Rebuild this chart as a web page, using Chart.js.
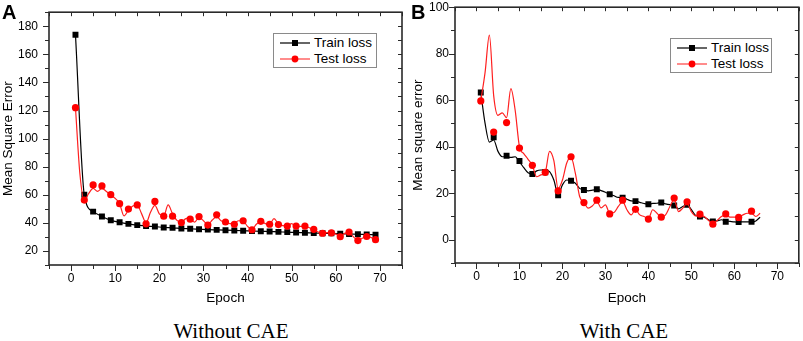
<!DOCTYPE html>
<html>
<head>
<meta charset="utf-8">
<script src="https://cdn.jsdelivr.net/npm/chart.js@4/dist/chart.umd.min.js"></script>
<style>
  html, body { margin: 0; padding: 0; background: #fff; }
  body { width: 803px; height: 341px; position: relative; overflow: hidden; font-family: "Liberation Sans", Arial, sans-serif; }
  canvas { position: absolute; top: 0; }
  .panel { position: absolute; font: bold 20px/20px "Liberation Sans", Arial, sans-serif; color: #000; }
  .legend { position: absolute; border: 1px solid #8a8a8a; background: #fff; box-sizing: border-box; font: 13.5px/16px "Liberation Sans", Arial, sans-serif; color: #000; padding-top: 1px; }
  .legend .row { height: 16px; display: flex; align-items: center; white-space: nowrap; }
  .legend svg { display: block; margin-right: 4px; }
  .caption { position: absolute; top: 319px; font: 21px/24px "Liberation Serif", "Times New Roman", serif; color: #000; transform: translateX(-50%); white-space: nowrap; }
</style>
</head>
<body>
<canvas id="chartA" width="410" height="306" style="left:0px"></canvas>
<canvas id="chartB" width="393" height="306" style="left:410px"></canvas>

<div class="panel" style="left:2px; top:2px;">A</div>
<div class="panel" style="left:411px; top:2px;">B</div>

<div class="legend" style="left:273px; top:33px; width:104px; height:35px; padding-left:6px;">
  <div class="row"><svg width="30" height="10"><line x1="0" y1="5" x2="30" y2="5" stroke="#000" stroke-width="1.2"/><rect x="12" y="2" width="6" height="6" fill="#000"/></svg><span id="legA1"></span></div>
  <div class="row"><svg width="30" height="10"><line x1="0" y1="5" x2="30" y2="5" stroke="#ff4040" stroke-width="1.2"/><circle cx="15" cy="5" r="3.4" fill="#ff0000"/></svg><span id="legA2"></span></div>
</div>
<div class="legend" style="left:670px; top:38px; width:102px; height:35px; padding-left:6px;">
  <div class="row"><svg width="30" height="10"><line x1="0" y1="5" x2="30" y2="5" stroke="#000" stroke-width="1.2"/><rect x="12" y="2" width="6" height="6" fill="#000"/></svg><span id="legB1"></span></div>
  <div class="row"><svg width="30" height="10"><line x1="0" y1="5" x2="30" y2="5" stroke="#ff4040" stroke-width="1.2"/><circle cx="15" cy="5" r="3.4" fill="#ff0000"/></svg><span id="legB2"></span></div>
</div>

<div class="caption" style="left:231px;">Without CAE</div>
<div class="caption" style="left:624px;">With CAE</div>

<script>
// ---------------- DATA ----------------
const seriesNames = ["Train loss", "Test loss"];

// Panel A (without CAE)
const markerEpochsA = [1,3,5,7,9,11,13,15,17,19,21,23,25,27,29,31,33,35,37,39,41,43,45,47,49,51,53,55,57,59,61,63,65,67,69];
const trainA = [174,60,48,44.5,41.8,40.4,39.3,38.4,37.7,37.4,36.7,36.5,36,35.8,35.5,35.2,35,34.8,34.6,34.4,34.2,34,33.8,33.6,33.4,33.2,33,32.8,32.6,32.5,32.3,32.1,31.9,31.7,31.5];
const testMarkA = [122,56.2,67,66.3,60.1,53.7,49.8,52.8,39.3,55.3,44.8,44.8,40.2,42.6,44.5,38.4,45.7,40.6,39,41.5,35.1,41.1,39,38.8,37.7,37.7,37.7,35.4,32.6,32.9,30.1,33.5,27.4,30.3,28];
const lineEpochsA = [1,2,3,4,5,6,7,8,9,10,11,12,13,14,15,16,17,18,19,20,21,22,23,24,25,26,27,28,29,30,31,32,33,34,35,36,37,38,39,40,41,42,43,44,45,46,47,48,49,50,51,52,53,54,55,56,57,58,59,60,61,62,63,64,65,66,67,68,69];
const testLineA = [122,75,56,61,64.5,62.4,64.5,62.4,60,57.4,53.7,45,49,52,52.6,46.4,40,47.5,52.5,46.4,45,52.8,46.4,41.8,40.6,43,43.5,40.5,44,41.5,38.8,42,44.5,41.5,40.3,39.5,39.8,41.5,41.2,37.5,35.5,39,41,39.5,39,43,39.2,38,37.8,39.5,37.5,37.5,37.5,36.5,35.2,33.5,32.8,33,32.9,32,30.5,32.5,33.2,30,27.8,29,30.5,29.5,28.5];
const xTicksA = [0,10,20,30,40,50,60,70];
const yTicksA = [20,40,60,80,100,120,140,160,180];

// Panel B (with CAE)
const markerEpochsB = [1,4,7,10,13,16,19,22,25,28,31,34,37,40,43,46,49,52,55,58,61,64];
const trainMarkB = [63.3,44.1,36.1,33.9,28.3,29,19.1,25.4,21.4,21.7,19.6,18.1,16.6,15.3,16,14.7,15,10,7.9,7.7,7.6,7.7];
const testMarkB = [59.7,46.3,50.4,39.4,32,29,21,35.7,16,17,11.1,17,13.1,8.9,9.7,17.9,16.3,11,6.7,11.1,9.6,12.3];
const lineEpochsB = [1,2,3,4,5,6,7,8,9,10,11,12,13,14,15,16,17,18,19,20,21,22,23,24,25,26,27,28,29,30,31,32,33,34,35,36,37,38,39,40,41,42,43,44,45,46,47,48,49,50,51,52,53,54,55,56,57,58,59,60,61,62,63,64,65,66];
const trainLineB = [63.3,50,42,42.9,38,35.7,35.7,35.4,35.7,33.5,31,28.8,28.3,29.6,30,30,29.3,25.7,19.5,23.6,25.7,25.4,24.3,22.1,21.4,21,21.3,21.7,21.1,20.4,19.6,18.9,18.2,18.1,17.4,16.7,16.6,16.1,15.6,15.3,15.6,15.7,16,15.4,15.1,14.9,13.3,14.3,15,12.9,10.4,10,9.7,8.6,7.9,8.1,8.6,8.1,7.9,7.7,7.6,7.7,7.7,7.6,8.1,9.7];
const testLineB = [59.7,72,88,62,53.5,54.6,52.5,65,55.7,40,37,34.6,32,27.1,27.9,29,38,34,22,25.7,33,35.5,28.6,18.6,16,13.6,14.6,16.5,13.7,15,11.4,11.7,14.3,16.4,12.9,10.7,12.9,10.7,10,9,12.9,11.4,9.7,10.7,14.3,17.4,12.1,13.6,15.7,12.1,10.3,10.7,10,8.3,7.1,8.3,10,10.7,9.7,9.7,9.7,10.7,11.4,11.4,10,11.4];
const xTicksB = [0,10,20,30,40,50,60,70];
const yTicksB = [0,20,40,60,80,100];

// ---------------- RENDER ----------------
document.getElementById('legA1').textContent = seriesNames[0];
document.getElementById('legA2').textContent = seriesNames[1];
document.getElementById('legB1').textContent = seriesNames[0];
document.getElementById('legB2').textContent = seriesNames[1];

const pts = (xs, ys) => xs.map((x, i) => ({ x: x, y: ys[i] }));

const frameTicks = {
  id: 'frameTicks',
  afterDatasetsDraw(chart, args, o) {
    const { ctx, chartArea: a } = chart;
    const xs = chart.scales.x, ys = chart.scales.y;
    ctx.save();
    ctx.strokeStyle = '#2a2a2a';
    ctx.lineWidth = 1;
    ctx.beginPath();
    for (let v = xs.min; v <= xs.max + 1e-9; v += o.xStep) {
      const p = Math.round(xs.getPixelForValue(v)) + 0.5;
      const major = Math.abs(v % o.xMajor) < 1e-9;
      ctx.moveTo(p, a.bottom); ctx.lineTo(p, a.bottom + (major ? 6 : 4));
      ctx.moveTo(p, a.top); ctx.lineTo(p, a.top + 4);
    }
    for (let v = ys.min; v <= ys.max + 1e-9; v += o.yStep) {
      const p = Math.round(ys.getPixelForValue(v)) + 0.5;
      const major = Math.abs(v % o.yMajor) < 1e-9;
      ctx.moveTo(a.left, p); ctx.lineTo(a.left - (major ? 6 : 4), p);
      ctx.moveTo(a.right, p); ctx.lineTo(a.right - 4, p);
    }
    ctx.stroke();
    ctx.lineWidth = 1.6;
    ctx.strokeRect(a.left, a.top, a.right - a.left, a.bottom - a.top);
    ctx.restore();
  }
};

const tickFont = { family: '"Liberation Sans Narrow", "Liberation Sans", Arial, sans-serif', size: 12 };
const titleFont = { family: '"Liberation Sans", Arial, sans-serif', size: 13.5 };

function makeChart(id, cfg) {
  const datasets = [
    { data: pts(cfg.markEpochs, cfg.testMark), showLine: false, pointStyle: 'circle', pointRadius: 3.6,
      pointBackgroundColor: '#ff0000', pointBorderColor: '#ff0000', pointBorderWidth: 0 },
    { data: pts(cfg.testLineX, cfg.testLine), borderColor: '#ff2020', borderWidth: 1.2, pointRadius: 0,
      cubicInterpolationMode: 'monotone', fill: false },
    { data: pts(cfg.markEpochs, cfg.trainMark), showLine: false, pointStyle: 'rect', pointRadius: 4.2,
      pointBackgroundColor: '#000', pointBorderColor: '#000', pointBorderWidth: 0 },
    { data: pts(cfg.trainLineX, cfg.trainLine), borderColor: '#000', borderWidth: 1.2, pointRadius: 0,
      cubicInterpolationMode: 'monotone', fill: false }
  ];
  return new Chart(document.getElementById(id), {
    type: 'line',
    data: { datasets },
    plugins: [frameTicks],
    options: {
      responsive: false, animation: false, devicePixelRatio: 1, events: [],
      layout: { padding: { top: cfg.padTop, right: cfg.padRight, left: 0, bottom: 0 } },
      plugins: {
        legend: { display: false }, tooltip: { enabled: false },
        frameTicks: { xStep: 5, xMajor: 10, yStep: 10, yMajor: 20 }
      },
      scales: {
        x: {
          type: 'linear', min: -5, max: 75,
          afterBuildTicks: ax => { ax.ticks = cfg.xTicks.map(v => ({ value: v })); },
          afterFit: ax => { ax.height = cfg.xAxisH; },
          grid: { display: true, drawOnChartArea: false, color: 'transparent', tickLength: 5 },
          border: { display: false },
          ticks: { autoSkip: false, maxRotation: 0, padding: 1, color: '#000', font: tickFont },
          title: { display: true, text: 'Epoch', color: '#000', font: titleFont, padding: 0 }
        },
        y: {
          type: 'linear', min: cfg.yMin, max: cfg.yMax,
          afterBuildTicks: ax => { ax.ticks = cfg.yTicks.map(v => ({ value: v })); },
          afterFit: ax => { ax.width = cfg.yAxisW; },
          grid: { display: true, drawOnChartArea: false, color: 'transparent', tickLength: 6 },
          border: { display: false },
          ticks: { autoSkip: false, padding: cfg.yPad, color: '#000', font: tickFont },
          title: { display: true, text: cfg.yTitle, color: '#000', font: titleFont, padding: 0 }
        }
      }
    }
  });
}

makeChart('chartA', {
  markEpochs: markerEpochsA, trainMark: trainA, testMark: testMarkA,
  trainLineX: markerEpochsA, trainLine: trainA, testLineX: lineEpochsA, testLine: testLineA,
  xTicks: xTicksA, yTicks: yTicksA, yMin: 10, yMax: 190, yTitle: 'Mean Square Error',
  padTop: 3, padRight: 8, xAxisH: 41, yAxisW: 49, yPad: 5
});
makeChart('chartB', {
  markEpochs: markerEpochsB, trainMark: trainMarkB, testMark: testMarkB,
  trainLineX: lineEpochsB, trainLine: trainLineB, testLineX: lineEpochsB, testLine: testLineB,
  xTicks: xTicksB, yTicks: yTicksB, yMin: -10, yMax: 100, yTitle: 'Mean square error',
  padTop: 6, padRight: 3, xAxisH: 43, yAxisW: 45, yPad: 0
});
</script>
</body>
</html>
